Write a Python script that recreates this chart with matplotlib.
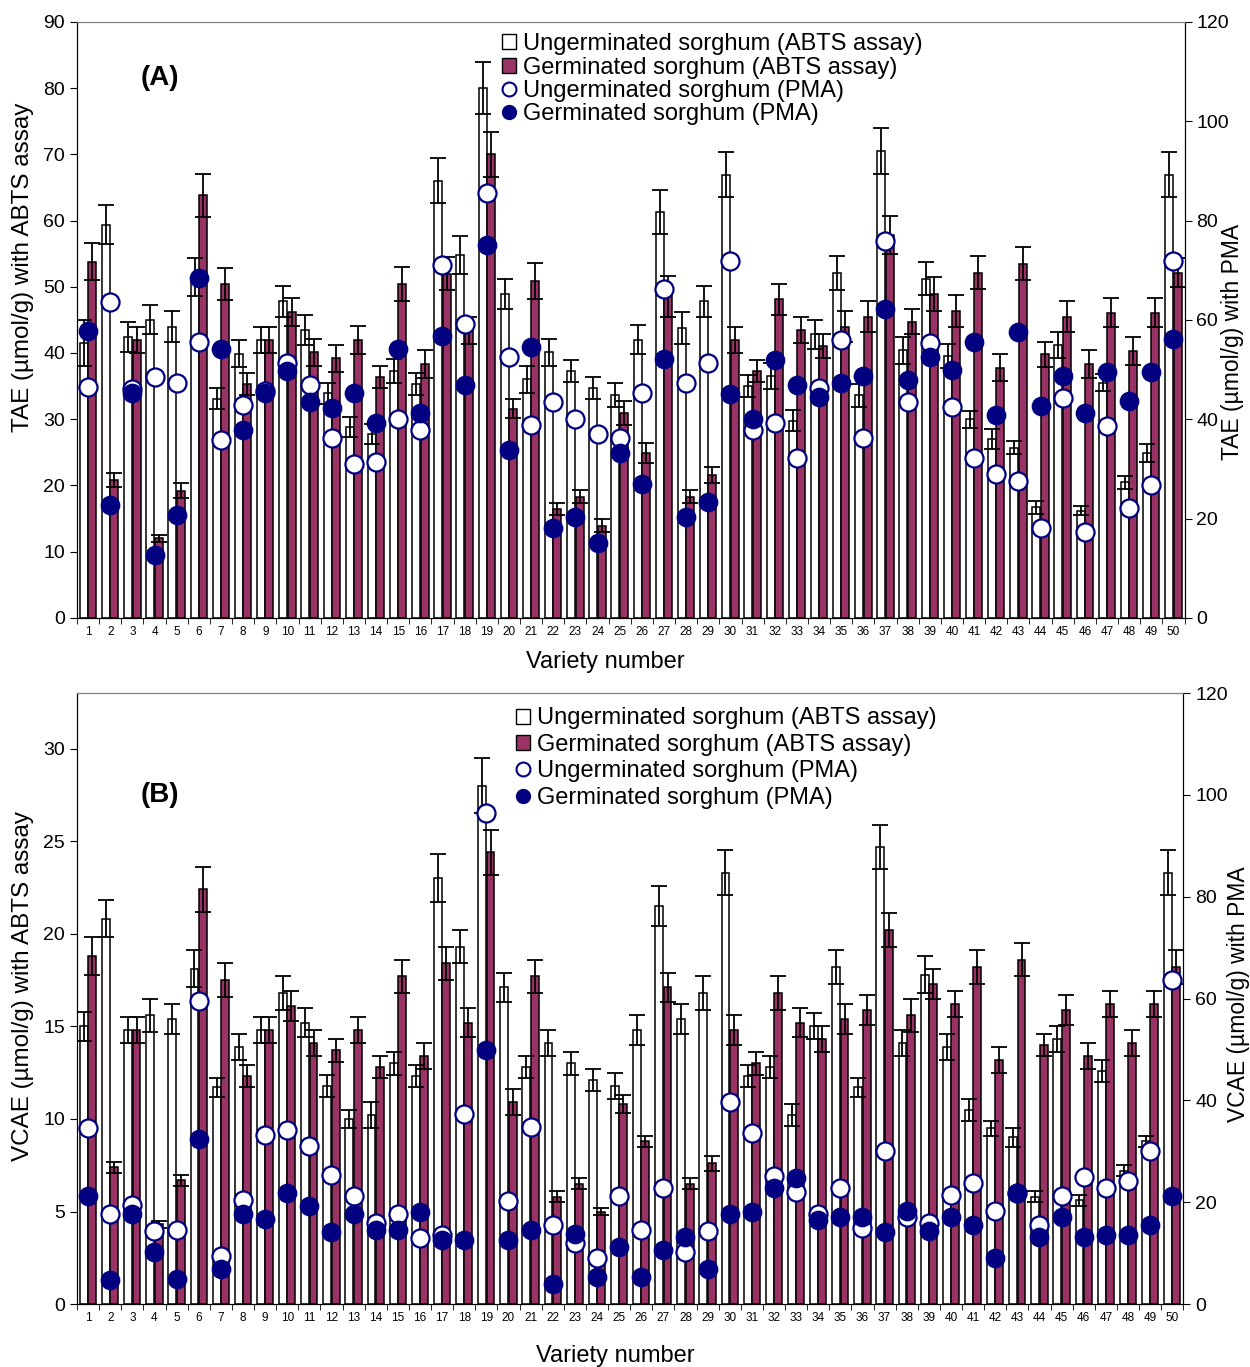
import matplotlib
matplotlib.use('Agg')
import matplotlib.pyplot as plt
from matplotlib.lines import Line2D
from matplotlib.patches import Patch
import numpy as np

plt.rcParams['font.family'] = ['Liberation Sans', 'DejaVu Sans']

varieties = list(range(1, 51))

# panel A - TAE, ABTS assay (left axis)
a_ung = [41.5, 59.4, 42.4, 45.0, 44.0, 51.5, 33.1, 39.9, 42.0, 47.8,
         43.5, 33.9, 28.8, 27.8, 37.3, 35.3, 66.0, 54.8, 80.0, 48.9,
         36.0, 40.1, 37.3, 34.7, 33.7, 42.0, 61.3, 43.8, 47.8, 66.9,
         35.0, 36.5, 29.8, 42.8, 52.1, 33.6, 70.5, 40.4, 51.2, 39.6,
         30.0, 27.0, 25.7, 16.7, 41.2, 16.2, 35.5, 20.5, 24.9, 66.9]
a_ung_err = [3.5, 2.9, 2.3, 2.2, 2.4, 2.9, 1.6, 2.0, 2.0, 2.3,
             2.3, 1.6, 1.5, 1.5, 1.8, 1.7, 3.4, 2.9, 3.9, 2.3,
             2.1, 2.0, 1.7, 1.7, 1.8, 2.2, 3.3, 2.4, 2.3, 3.4,
             1.7, 2.0, 1.6, 2.2, 2.6, 1.7, 3.4, 2.0, 2.5, 1.8,
             1.3, 1.5, 1.0, 1.0, 2.0, 0.7, 1.3, 1.0, 1.3, 3.4]
a_ger = [53.8, 20.8, 42.0, 12.0, 19.2, 63.8, 50.4, 35.3, 42.0, 46.2,
         40.1, 39.2, 42.0, 36.4, 50.4, 38.3, 52.0, 43.4, 70.0, 31.6,
         50.9, 16.4, 18.3, 13.9, 30.9, 24.9, 48.6, 18.3, 21.6, 42.0,
         37.3, 48.1, 43.5, 41.1, 44.0, 45.5, 57.8, 44.7, 48.9, 46.4,
         52.1, 37.8, 53.5, 39.8, 45.5, 38.3, 46.1, 40.3, 46.1, 52.1]
a_ger_err = [2.8, 1.1, 2.0, 0.5, 1.1, 3.3, 2.4, 1.7, 2.0, 2.1,
             2.0, 2.0, 2.1, 1.7, 2.6, 2.1, 2.5, 2.0, 3.4, 1.4,
             2.7, 0.9, 1.0, 1.0, 1.8, 1.5, 3.1, 1.0, 1.2, 2.0,
             1.7, 2.3, 2.0, 1.8, 2.4, 2.3, 2.9, 1.9, 2.5, 2.4,
             2.5, 2.0, 2.5, 1.9, 2.3, 2.1, 2.2, 2.1, 2.2, 2.2]
# panel A - TAE, PMA (right axis)
a_ung_pma = [46.5, 63.5, 46.0, 48.4, 47.3, 55.6, 35.8, 42.8, 45.6, 51.4,
             46.9, 36.3, 30.9, 31.4, 40.1, 37.8, 71.1, 59.1, 85.5, 52.5,
             38.9, 43.4, 40.1, 37.1, 36.3, 45.3, 66.3, 47.3, 51.4, 71.9,
             37.9, 39.2, 32.1, 46.3, 56.0, 36.3, 75.8, 43.4, 55.4, 42.4,
             32.1, 29.0, 27.5, 18.1, 44.3, 17.3, 38.6, 22.2, 26.7, 71.9]
a_ger_pma = [57.8, 22.7, 45.3, 12.7, 20.7, 68.5, 54.2, 37.8, 45.3, 49.7,
             43.4, 42.3, 45.3, 39.3, 54.1, 41.2, 56.7, 46.9, 75.0, 33.8,
             54.5, 18.1, 20.3, 15.1, 33.1, 27.0, 52.1, 20.3, 23.4, 45.0,
             40.1, 51.9, 46.9, 44.5, 47.3, 48.6, 62.2, 47.9, 52.6, 50.0,
             55.6, 40.8, 57.5, 42.7, 48.6, 41.2, 49.5, 43.6, 49.5, 56.1]

# panel B - VCAE, ABTS assay (left axis)
b_ung = [15.0, 20.8, 14.8, 15.6, 15.4, 18.1, 11.7, 13.9, 14.8, 16.8,
         15.2, 11.8, 10.0, 10.2, 13.0, 12.3, 23.0, 19.3, 28.0, 17.1,
         12.8, 14.1, 13.0, 12.1, 11.8, 14.8, 21.5, 15.4, 16.8, 23.3,
         12.3, 12.8, 10.2, 15.0, 18.2, 11.7, 24.7, 14.1, 17.8, 13.9,
         10.5, 9.5, 9.0, 5.8, 14.3, 5.6, 12.6, 7.2, 8.8, 23.3]
b_ung_err = [0.8, 1.0, 0.7, 0.9, 0.8, 1.0, 0.5, 0.7, 0.7, 0.9,
             0.8, 0.6, 0.5, 0.7, 0.6, 0.6, 1.3, 0.9, 1.5, 0.8,
             0.6, 0.7, 0.6, 0.6, 0.7, 0.8, 1.1, 0.8, 0.9, 1.2,
             0.6, 0.6, 0.6, 0.7, 0.9, 0.5, 1.2, 0.7, 1.0, 0.7,
             0.6, 0.4, 0.5, 0.3, 0.7, 0.3, 0.6, 0.3, 0.3, 1.2]
b_ger = [18.8, 7.4, 14.8, 4.3, 6.7, 22.4, 17.5, 12.3, 14.8, 16.1,
         14.1, 13.7, 14.8, 12.8, 17.7, 13.4, 18.4, 15.2, 24.4, 10.9,
         17.7, 5.8, 6.5, 5.0, 10.8, 8.8, 17.1, 6.5, 7.6, 14.8,
         13.0, 16.8, 15.2, 14.3, 15.4, 15.9, 20.2, 15.6, 17.3, 16.2,
         18.2, 13.2, 18.6, 14.0, 15.9, 13.4, 16.2, 14.1, 16.2, 18.2]
b_ger_err = [1.0, 0.3, 0.7, 0.2, 0.3, 1.2, 0.9, 0.6, 0.7, 0.8,
             0.7, 0.6, 0.7, 0.6, 0.9, 0.7, 0.9, 0.8, 1.2, 0.7,
             0.9, 0.3, 0.3, 0.2, 0.5, 0.3, 0.8, 0.3, 0.4, 0.8,
             0.6, 0.9, 0.8, 0.7, 0.8, 0.8, 0.9, 0.9, 0.8, 0.7,
             0.9, 0.7, 0.9, 0.6, 0.8, 0.7, 0.7, 0.7, 0.7, 0.9]
# panel B - VCAE, PMA (right axis)
b_ung_pma = [34.6, 17.6, 19.5, 14.4, 14.6, 59.6, 9.5, 20.4, 33.3, 34.1,
             31.1, 25.4, 21.2, 15.9, 17.6, 12.9, 13.5, 37.4, 96.5, 20.2,
             34.8, 15.6, 12.0, 9.0, 21.2, 14.6, 22.8, 10.3, 14.4, 39.7,
             33.7, 25.1, 22.1, 17.6, 22.8, 15.0, 30.1, 17.2, 15.9, 21.5,
             23.8, 18.2, 21.9, 15.5, 21.2, 24.9, 22.8, 24.2, 30.1, 63.6]
b_ger_pma = [21.2, 4.7, 17.6, 10.3, 5.0, 32.4, 6.9, 17.6, 16.8, 21.9,
             19.3, 14.2, 17.6, 14.6, 14.6, 18.1, 12.5, 12.6, 50.0, 12.6,
             14.6, 3.9, 13.8, 5.3, 11.3, 5.3, 10.6, 13.2, 6.9, 17.6,
             18.1, 22.8, 24.7, 16.5, 17.2, 17.2, 14.2, 18.3, 14.4, 17.2,
             15.5, 9.0, 21.8, 13.2, 17.2, 13.2, 13.5, 13.5, 15.5, 21.2]

labels = ['Ungerminated sorghum (ABTS assay)', 'Germinated sorghum (ABTS assay)',
          'Ungerminated sorghum (PMA)', 'Germinated sorghum (PMA)']
germ_col = '#993366'
navy = '#000080'


def draw_panel(ax, ung, ung_err, ger, ger_err, ung_pma, ger_pma,
               lmax, lstep, ylab, ylab2, tag, leg, lab_pos):
    x = np.array(varieties)
    w = 0.36
    ekw = dict(elinewidth=1.3, capthick=1.3, ecolor='black')
    ax.bar(x - 0.19, ung, w, yerr=ung_err, color='white', edgecolor='black',
           linewidth=1.1, capsize=6, error_kw=ekw)
    ax.bar(x + 0.19, ger, w, yerr=ger_err, color=germ_col, edgecolor='black',
           linewidth=1.1, capsize=6, error_kw=ekw)
    ax.set_xlim(0.5, 50.5)
    ax.set_ylim(0, lmax)
    ax.set_yticks(np.arange(0, lmax + 0.01, lstep))
    ax.set_xticks(x)
    ax.set_xticklabels([str(v) for v in varieties], fontsize=8.5)
    ax.set_xticks(np.arange(0.5, 51, 1), minor=True)
    ax.tick_params(axis='x', which='major', length=0, pad=6)
    ax.tick_params(axis='x', which='minor', length=4, direction='out')
    ax.tick_params(axis='y', labelsize=14, length=5, direction='out')
    ax.set_ylabel(ylab, fontsize=17.5)
    ax.yaxis.set_label_coords(-0.039, lab_pos[0])
    ax.set_xlabel('Variety number', fontsize=17)
    ax.xaxis.set_label_coords(lab_pos[2], lab_pos[3])
    ax.spines['top'].set_color('#808080')
    ax.text(0.075, tag[1], tag[0], transform=ax.transAxes, fontsize=20,
            fontweight='bold', ha='center', va='center')

    ax2 = ax.twinx()
    ax2.plot(x, ung_pma, 'o', ms=13, mfc='white', mec=navy, mew=1.6, ls='none')
    ax2.plot(x, ger_pma, 'o', ms=13, mfc=navy, mec=navy, mew=1.2, ls='none')
    ax2.set_ylim(0, 120)
    ax2.set_yticks(np.arange(0, 121, 20))
    ax2.tick_params(axis='y', labelsize=14, length=5, direction='out')
    ax2.set_ylabel(ylab2, fontsize=16.5)
    ax2.yaxis.set_label_coords(lab_pos[4], lab_pos[1])
    ax2.spines['top'].set_color('#808080')

    handles = [Patch(facecolor='white', edgecolor='black'),
               Patch(facecolor=germ_col, edgecolor='black'),
               Line2D([], [], marker='o', ls='none', ms=10, mfc='white', mec=navy, mew=1.5),
               Line2D([], [], marker='o', ls='none', ms=10, mfc=navy, mec=navy)]
    ax2.legend(handles, labels, loc='upper left', bbox_to_anchor=leg[:2],
               frameon=False, fontsize=17, handlelength=0.6, handleheight=0.6,
               handletextpad=0.3, labelspacing=leg[2], borderaxespad=0)
    return ax2


fig = plt.figure(figsize=(12.5, 13.67), dpi=100)
axA = fig.add_axes([0.0616, 0.548, 0.886, 0.436])
axB = fig.add_axes([0.0616, 0.046, 0.885, 0.447])

draw_panel(axA, a_ung, a_ung_err, a_ger, a_ger_err, a_ung_pma, a_ger_pma,
           90, 10, 'TAE (\u00b5mol/g) with ABTS assay', 'TAE (\u00b5mol/g) with PMA',
           ('(A)', 0.906), (0.375, 0.997, 0.06), (0.589, 0.463, 0.477, -0.055, 1.033))
draw_panel(axB, b_ung, b_ung_err, b_ger, b_ger_err, b_ung_pma, b_ger_pma,
           33, 5, 'VCAE (\u00b5mol/g) with ABTS assay', 'VCAE (\u00b5mol/g) with PMA',
           ('(B)', 0.833), (0.388, 0.992, 0.19), (0.52, 0.507, 0.487, -0.067, 1.04))

plt.savefig('out.png', dpi=100)
